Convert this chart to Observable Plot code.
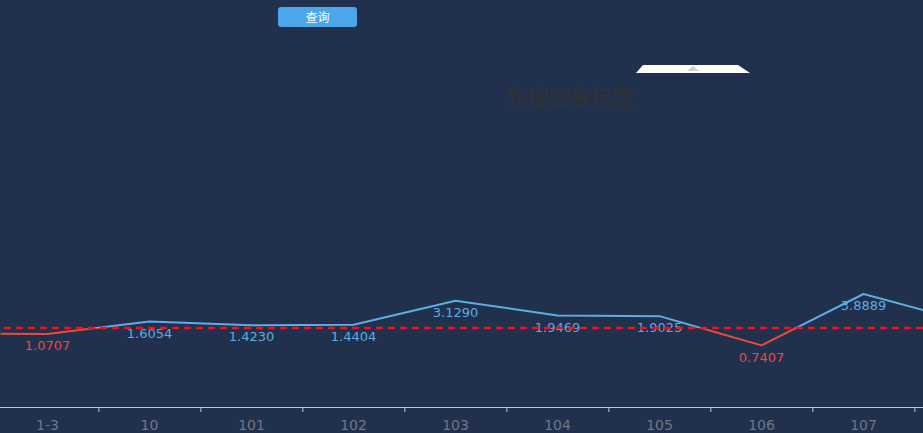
<!DOCTYPE html>
<html>
<head>
<meta charset="utf-8">
<script src="https://cdn.jsdelivr.net/npm/d3@7"></script>
<script src="https://cdn.jsdelivr.net/npm/@observablehq/plot@0.6"></script>
<style>
  html, body { margin: 0; padding: 0; background: #21304d; overflow: hidden; }
  #wrap { position: relative; width: 923px; height: 433px; overflow: hidden; background: #21304d; }
  #chart { position: absolute; left: 0; top: 0; }
  .btn {
    position: absolute; left: 278px; top: 7px; width: 79px; height: 20px;
    background: #4ba6ea; border-radius: 3px; color: #fff;
    font: 12px "Noto Sans CJK SC", sans-serif; line-height: 20px; text-align: center;
  }
  .tab {
    position: absolute; left: 636px; top: 65px; width: 114px; height: 8px; background: #fff;
    clip-path: polygon(7px 0, 102px 0, 114px 100%, 0 100%);
  }
  .tab::after {
    content: ""; position: absolute; left: 51px; top: 1px;
    border-left: 6px solid transparent; border-right: 6px solid transparent;
    border-bottom: 5px solid #cfcfcf;
  }
  .title {
    position: absolute; left: 507px; top: 84px; white-space: nowrap;
    font: 21px "Noto Sans CJK SC", sans-serif; line-height: 24px; color: #333;
  }
</style>
</head>
<body>
<div id="wrap">
  <div id="chart"></div>
  <div class="btn">查询</div>
  <div class="tab"></div>
  <div class="title">新建图表标题</div>
</div>
<script>
// Categories shown on the axis and their values
const categories = ["1-3", "10", "101", "102", "103", "104", "105", "106", "107"];
const values = [1.0707, 1.6054, 1.4230, 1.4404, 3.1290, 1.9469, 1.9025, 0.7407, 3.8889];

// Neighbouring points just outside the visible window (the line runs off both edges)
const prevCategory = "1-2";
const prevValue = 1.08;
const nextCategory = "108";
const nextValue = 1.61;

// Values below this level are drawn red, above it blue
const threshold = 1.3;

const blue = "#5dade2";
const red = "#e74c3c";

const allCats = [prevCategory, ...categories, nextCategory];
const allVals = [prevValue, ...values, nextValue];
const rows = allCats.map((c, i) => ({c, v: allVals[i]}));
const labelled = categories.map((c, i) => ({c, v: values[i]}));

const W = 923, H = 433;
const step = 102.7, firstCenter = 44.5;

const chart = Plot.plot({
  width: W,
  height: H,
  marginTop: 50,
  marginBottom: 26,
  marginLeft: 0,
  marginRight: 0,
  style: {background: "transparent", overflow: "hidden", fontFamily: "'DejaVu Sans', sans-serif"},
  x: {
    type: "point", domain: allCats, padding: 0, axis: null, label: null,
    range: [firstCenter - step, firstCenter + step * (allCats.length - 2)]
  },
  y: {type: "log", domain: [0.1, 10000], axis: null, label: null},
  color: {type: "identity"},
  marks: [
    Plot.ruleY([0.1], {stroke: "#c4c4c4", strokeWidth: 1}),
    // boundary ticks between categories
    Plot.axisX(categories, {tickSize: 5, dx: step / 2, tickFormat: () => "", label: null, stroke: "#c4c4c4"}),
    Plot.axisX(categories, {tickSize: 0, tickPadding: 13, fontSize: 14, label: null, color: "#6f7785"}),
    Plot.lineY(rows, {x: "c", y: "v", stroke: blue, strokeWidth: 2}),
    Plot.lineY(rows, {x: "c", y: "v", stroke: red, strokeWidth: 2}),
    Plot.text(labelled, {
      x: "c", y: "v", dy: 12, fontSize: 13,
      text: d => d.v.toFixed(4),
      fill: d => d.v < threshold ? red : blue
    }),
    Plot.ruleY([threshold], {stroke: "#e5161d", strokeWidth: 2.5, strokeDasharray: "7,5", strokeDashoffset: 8})
  ]
});

// Split the series colour at the threshold level
const yT = chart.scale("y").apply(threshold);
const ns = "http://www.w3.org/2000/svg";
const defs = document.createElementNS(ns, "defs");
function clipRect(id, y, h) {
  const cp = document.createElementNS(ns, "clipPath");
  cp.setAttribute("id", id);
  const r = document.createElementNS(ns, "rect");
  r.setAttribute("x", 0); r.setAttribute("y", y);
  r.setAttribute("width", W); r.setAttribute("height", h);
  cp.appendChild(r);
  defs.appendChild(cp);
}
clipRect("clip-above", 0, yT);
clipRect("clip-below", yT, H - yT);
chart.insertBefore(defs, chart.firstChild);
const lines = chart.querySelectorAll('g[aria-label="line"]');
lines[0].setAttribute("clip-path", "url(#clip-above)");
lines[1].setAttribute("clip-path", "url(#clip-below)");

document.getElementById("chart").appendChild(chart);
</script>
</body>
</html>
